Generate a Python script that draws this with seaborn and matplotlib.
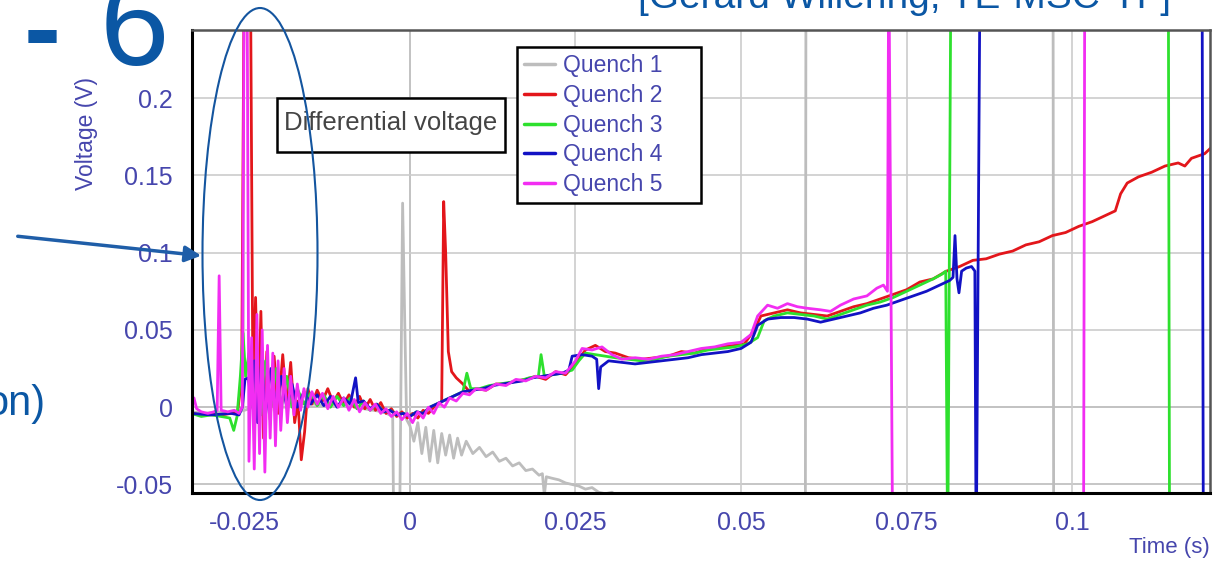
import numpy as np
import pandas as pd
import matplotlib
matplotlib.use("Agg")
import matplotlib.pyplot as plt
import seaborn as sns
from matplotlib.patches import Ellipse, FancyArrowPatch, Rectangle
from matplotlib.ticker import MultipleLocator

# (time in ms, voltage in V); +0.30 / -0.10 are off-scale excursions
quench1 = [(-33.0, -0.003), (-31.0, -0.004), (-29.0, -0.003), (-27.0, -0.004), (-25.0, -0.002),
           (-22.0, 0.002), (-19.0, 0.0), (-16.0, 0.003), (-13.0, 0.001), (-10.0, 0.002),
           (-7.0, -0.001), (-4.0, -0.003), (-2.6, -0.006), (-2.4, -0.10), (-1.6, -0.10),
           (-1.1, 0.132), (-0.8, 0.06), (-0.5, -0.008), (0.0, -0.012), (0.6, -0.022),
           (1.2, -0.01), (1.8, -0.03), (2.4, -0.013), (3.0, -0.035), (3.6, -0.015),
           (4.2, -0.036), (4.8, -0.017), (5.4, -0.031), (6.0, -0.018), (6.6, -0.033),
           (7.2, -0.02), (7.8, -0.031), (8.5, -0.022), (9.5, -0.03), (10.5, -0.026),
           (11.5, -0.032), (12.5, -0.029), (13.5, -0.035), (14.5, -0.033), (15.5, -0.038),
           (16.5, -0.036), (17.5, -0.041), (18.5, -0.04), (19.5, -0.044), (20.0, -0.043),
           (20.3, -0.057), (20.6, -0.045), (21.5, -0.046), (22.5, -0.047), (23.5, -0.049),
           (24.5, -0.05), (25.5, -0.051), (26.5, -0.053), (27.5, -0.052), (28.5, -0.055),
           (29.5, -0.056), (30.5, -0.055), (31.5, -0.058), (33.0, -0.059), (34.5, -0.063),
           (36.0, -0.07), (59.7, -0.10), (59.8, 0.30), (97.1, 0.30), (97.2, -0.10),
           (121.0, -0.10)]

quench2 = [(-33.0, -0.004), (-31.5, -0.005), (-30.0, -0.004), (-28.5, -0.005), (-27.0, -0.004),
           (-26.0, -0.003), (-25.4, 0.02), (-25.0, 0.30), (-24.1, 0.30), (-23.7, 0.01),
           (-23.3, 0.071), (-22.9, -0.01), (-22.5, 0.062), (-22.1, -0.02), (-21.6, 0.036),
           (-21.1, -0.008), (-20.5, 0.033), (-19.9, -0.004), (-19.2, 0.034), (-18.6, 0.0),
           (-18.0, 0.029), (-17.4, -0.01), (-16.9, 0.004), (-16.4, -0.034), (-15.9, -0.016),
           (-15.4, 0.012), (-14.8, 0.002), (-14.0, 0.011), (-13.2, 0.004), (-12.4, 0.012),
           (-11.6, 0.003), (-10.8, 0.009), (-10.0, 0.002), (-9.2, 0.008), (-8.4, 0.0),
           (-7.6, 0.007), (-6.8, -0.001), (-6.0, 0.005), (-5.2, -0.002), (-4.4, 0.003),
           (-3.6, -0.004), (-2.8, -0.001), (-2.0, -0.006), (-1.2, -0.003), (-0.4, -0.007),
           (0.4, -0.004), (1.2, -0.007), (2.0, -0.002), (2.8, -0.004), (3.6, 0.0),
           (4.4, 0.002), (4.8, 0.004), (5.1, 0.133), (5.4, 0.1), (5.8, 0.036),
           (6.3, 0.023), (7.0, 0.019), (8.0, 0.015), (9.0, 0.01), (10.0, 0.012),
           (11.5, 0.011), (13.0, 0.015), (14.5, 0.015), (16.0, 0.017), (17.5, 0.018),
           (19.0, 0.02), (20.5, 0.018), (22.0, 0.023), (23.5, 0.021), (25.0, 0.028),
           (26.5, 0.037), (28.0, 0.04), (29.5, 0.036), (31.0, 0.035), (33.0, 0.032),
           (35.0, 0.031), (37.0, 0.032), (39.0, 0.033), (41.0, 0.036), (43.0, 0.035),
           (45.0, 0.038), (47.0, 0.039), (49.0, 0.04), (50.5, 0.041), (52.0, 0.05),
           (53.0, 0.059), (55.0, 0.061), (57.0, 0.063), (59.0, 0.061), (61.0, 0.06),
           (63.0, 0.059), (65.0, 0.062), (67.0, 0.065), (69.0, 0.067), (71.0, 0.07),
           (73.0, 0.073), (75.0, 0.076), (77.0, 0.081), (79.0, 0.083), (81.0, 0.088),
           (83.0, 0.091), (85.0, 0.095), (87.0, 0.096), (89.0, 0.099), (91.0, 0.101),
           (93.0, 0.105), (95.0, 0.107), (97.0, 0.111), (99.0, 0.113), (101.0, 0.117),
           (103.0, 0.12), (105.0, 0.124), (106.5, 0.127), (107.3, 0.138), (108.3, 0.145),
           (110.0, 0.149), (112.0, 0.152), (114.0, 0.156), (116.0, 0.158), (117.0, 0.156),
           (118.0, 0.161), (120.0, 0.164), (121.0, 0.168)]

quench3 = [(-33.0, -0.004), (-31.5, -0.006), (-30.0, -0.005), (-28.5, -0.006), (-27.2, -0.007),
           (-26.6, -0.015), (-26.1, -0.006), (-25.6, 0.02), (-25.2, 0.048), (-24.8, 0.02),
           (-24.3, 0.035), (-23.8, 0.0), (-23.2, 0.028), (-22.5, -0.005), (-21.8, 0.03),
           (-21.0, 0.0), (-20.2, 0.025), (-19.4, 0.0), (-18.6, 0.02), (-17.8, 0.0),
           (-17.0, 0.012), (-16.0, 0.002), (-15.0, 0.009), (-14.0, 0.001), (-13.0, 0.008),
           (-12.0, 0.0), (-11.0, 0.007), (-10.0, 0.001), (-9.0, 0.006), (-8.0, -0.001),
           (-7.0, 0.004), (-6.0, -0.002), (-5.0, 0.002), (-4.0, -0.003), (-3.0, -0.002),
           (-2.0, -0.005), (-1.0, -0.004), (0.0, -0.006), (1.0, -0.003), (2.0, -0.004),
           (3.0, 0.0), (4.0, 0.002), (5.0, 0.004), (6.0, 0.006), (7.0, 0.008),
           (8.0, 0.01), (8.6, 0.022), (9.2, 0.012), (10.5, 0.012), (12.0, 0.014),
           (13.5, 0.015), (15.0, 0.016), (16.5, 0.017), (18.0, 0.019), (19.4, 0.02),
           (19.8, 0.034), (20.3, 0.02), (21.5, 0.021), (23.0, 0.022), (24.5, 0.024),
           (25.5, 0.03), (26.5, 0.035), (28.0, 0.034), (29.5, 0.033), (31.0, 0.032),
           (33.0, 0.031), (35.0, 0.03), (37.0, 0.031), (39.0, 0.033), (41.0, 0.034),
           (43.0, 0.035), (45.0, 0.037), (47.0, 0.038), (49.0, 0.039), (51.0, 0.041),
           (52.5, 0.045), (53.5, 0.056), (55.0, 0.059), (57.0, 0.061), (59.0, 0.06),
           (61.0, 0.059), (63.0, 0.057), (65.0, 0.06), (67.0, 0.063), (69.0, 0.066),
           (71.0, 0.068), (73.0, 0.071), (75.0, 0.075), (77.0, 0.079), (79.0, 0.083),
           (80.3, 0.086), (80.9, 0.088), (81.2, -0.10), (81.7, 0.30), (114.5, 0.30),
           (114.7, -0.10), (121.0, -0.10)]

quench4 = [(-33.0, -0.004), (-30.0, -0.005), (-27.0, -0.004), (-25.8, -0.005), (-25.3, 0.0),
           (-24.9, 0.018), (-24.4, 0.019), (-24.0, 0.005), (-23.5, 0.03), (-23.0, -0.01),
           (-22.4, 0.03), (-21.8, -0.005), (-21.0, 0.025), (-20.2, 0.0), (-19.4, 0.02),
           (-18.6, 0.0), (-17.8, 0.015), (-17.0, 0.0), (-16.0, 0.01), (-15.0, 0.002),
           (-14.0, 0.008), (-13.0, 0.001), (-12.0, 0.007), (-11.0, 0.0), (-10.0, 0.006),
           (-9.0, 0.002), (-8.2, 0.019), (-7.8, 0.003), (-7.0, 0.004), (-6.0, -0.001),
           (-5.0, 0.002), (-4.0, -0.003), (-3.0, -0.002), (-2.0, -0.005), (-1.0, -0.004),
           (0.0, -0.006), (1.0, -0.003), (2.0, -0.004), (3.0, 0.0), (4.0, 0.002),
           (5.0, 0.004), (6.0, 0.006), (7.0, 0.008), (8.0, 0.01), (9.5, 0.011),
           (11.0, 0.012), (12.5, 0.014), (14.0, 0.015), (15.5, 0.016), (17.0, 0.017),
           (18.5, 0.019), (20.0, 0.02), (21.5, 0.021), (23.0, 0.022), (24.0, 0.024),
           (24.5, 0.033), (26.0, 0.034), (27.5, 0.033), (28.2, 0.031), (28.5, 0.012),
           (28.8, 0.026), (30.0, 0.03), (32.0, 0.029), (34.0, 0.028), (36.0, 0.029),
           (38.0, 0.03), (40.0, 0.031), (42.0, 0.032), (44.0, 0.034), (46.0, 0.035),
           (48.0, 0.036), (50.0, 0.038), (51.5, 0.042), (52.5, 0.053), (54.0, 0.057),
           (56.0, 0.058), (58.0, 0.058), (60.0, 0.057), (62.0, 0.055), (64.0, 0.057),
           (66.0, 0.059), (68.0, 0.061), (70.0, 0.064), (72.0, 0.066), (74.0, 0.069),
           (76.0, 0.072), (78.0, 0.075), (80.0, 0.079), (81.5, 0.082), (82.0, 0.084),
           (82.3, 0.111), (82.6, 0.083), (82.9, 0.074), (83.3, 0.088), (84.0, 0.09),
           (84.8, 0.091), (85.3, 0.088), (85.5, -0.10), (86.1, 0.30), (119.6, 0.30),
           (119.8, -0.10), (121.0, -0.10)]

quench5 = [(-33.0, -0.002), (-32.6, 0.006), (-32.2, -0.001), (-31.5, -0.003), (-30.5, -0.004),
           (-29.6, -0.003), (-29.1, -0.002), (-28.8, 0.085), (-28.5, -0.002), (-27.5, -0.003),
           (-26.5, -0.002), (-25.8, -0.004), (-25.3, 0.0), (-25.0, 0.30), (-24.6, 0.30),
           (-24.3, -0.035), (-23.9, 0.045), (-23.5, -0.04), (-23.1, 0.06), (-22.7, -0.03),
           (-22.3, 0.05), (-21.9, -0.042), (-21.5, 0.04), (-21.1, -0.02), (-20.7, 0.035),
           (-20.3, -0.025), (-19.9, 0.03), (-19.5, -0.015), (-19.0, 0.025), (-18.5, -0.01),
           (-18.0, 0.02), (-17.5, -0.005), (-17.0, 0.015), (-16.5, -0.002), (-16.0, 0.012),
           (-15.4, 0.0), (-14.8, 0.01), (-14.0, 0.002), (-13.2, 0.009), (-12.4, -0.001),
           (-11.6, 0.007), (-10.8, 0.0), (-10.0, 0.006), (-9.2, -0.002), (-8.4, 0.005),
           (-7.6, -0.003), (-6.8, 0.003), (-6.0, -0.002), (-5.2, 0.002), (-4.4, -0.004),
           (-3.6, -0.001), (-2.8, -0.006), (-2.0, -0.003), (-1.2, -0.008), (-0.4, -0.004),
           (0.4, -0.01), (1.2, -0.003), (2.0, -0.007), (2.8, 0.0), (3.6, -0.004),
           (4.4, 0.003), (5.2, 0.0), (6.0, 0.006), (7.0, 0.004), (8.0, 0.009),
           (9.0, 0.008), (10.0, 0.012), (11.5, 0.011), (13.0, 0.015), (14.5, 0.014),
           (16.0, 0.018), (17.5, 0.017), (19.0, 0.02), (20.5, 0.019), (22.0, 0.023),
           (23.5, 0.022), (25.0, 0.03), (26.0, 0.038), (27.5, 0.037), (29.0, 0.039),
           (30.5, 0.034), (32.0, 0.031), (34.0, 0.032), (36.0, 0.031), (38.0, 0.033),
           (40.0, 0.034), (42.0, 0.036), (44.0, 0.038), (46.0, 0.039), (48.0, 0.041),
           (50.0, 0.042), (51.5, 0.047), (52.5, 0.059), (54.0, 0.066), (55.5, 0.064),
           (57.0, 0.067), (58.5, 0.065), (60.0, 0.064), (62.0, 0.063), (63.5, 0.062),
           (65.0, 0.066), (67.0, 0.07), (69.0, 0.072), (70.5, 0.077), (71.5, 0.079),
           (72.1, 0.075), (72.3, 0.30), (72.9, -0.10), (101.7, -0.10), (101.9, 0.30),
           (121.0, 0.30)]

names = ["Quench 1", "Quench 2", "Quench 3", "Quench 4", "Quench 5"]
colors = ["#bdbdbd", "#e3161b", "#2ee02e", "#1212c4", "#f22df2"]
x_ticks = [-0.025, 0, 0.025, 0.05, 0.075, 0.1]
x_labels = ["-0.025", "0", "0.025", "0.05", "0.075", "0.1"]
y_ticks = [-0.05, 0, 0.05, 0.1, 0.15, 0.2]
y_labels = ["-0.05", "0", "0.05", "0.1", "0.15", "0.2"]

frames = []
for name, pts in zip(names, [quench1, quench2, quench3, quench4, quench5]):
    t, v = zip(*pts)
    frames.append(pd.DataFrame({"t": np.array(t) / 1000.0, "v": v, "Quench": name}))
df = pd.concat(frames, ignore_index=True)

sns.set_style("white")
plt.rcParams["font.family"] = ["Liberation Sans", "DejaVu Sans"]

slide_blue = "#0b57a4"
label_blue = "#4646ad"

W, H = 1214, 574
fig = plt.figure(figsize=(W / 100, H / 100), dpi=100)
ax = fig.add_axes([192 / W, 1 - 493 / H, 1018 / W, 463 / H])

sns.lineplot(data=df, x="t", y="v", hue="Quench", hue_order=names,
             palette=dict(zip(names, colors)), estimator=None, sort=False,
             linewidth=2.0, ax=ax)

ax.set_xlim(-0.0329, 0.1208)
ax.set_ylim(-0.0555, 0.244)
ax.set_xticks(x_ticks)
ax.set_xticklabels(x_labels)
ax.set_yticks(y_ticks)
ax.set_yticklabels(y_labels)
ax.xaxis.set_minor_locator(MultipleLocator(0.0125))
ax.yaxis.set_minor_locator(MultipleLocator(0.025))
ax.set_xlabel("")
ax.set_ylabel("")

ax.grid(True, which="major", color="#cccccc", lw=1.2, zorder=0)
ax.axhline(0, color="#8c8c8c", lw=1.3, zorder=0.5)
ax.axhline(-0.05, color="#a8a8a8", lw=1.3, zorder=0.5)
ax.axvline(0, color="#8c8c8c", lw=1.3, zorder=0.5)

for side in ["left", "bottom"]:
    ax.spines[side].set_color("black")
    ax.spines[side].set_linewidth(2.2)
for side in ["top", "right"]:
    ax.spines[side].set_color("#555555")
    ax.spines[side].set_linewidth(1.8)

ax.tick_params(axis="both", which="major", direction="inout", length=14, width=1.5,
               color="black", labelsize=18, labelcolor=label_blue)
ax.tick_params(axis="both", which="minor", direction="inout", length=9, width=1.3,
               color="black")
ax.tick_params(axis="y", which="major", pad=7)
ax.tick_params(axis="x", which="major", pad=6)

handles, labels = ax.get_legend_handles_labels()
leg = ax.legend(handles, [l + "     " for l in labels], loc="upper left",
                bbox_to_anchor=((517 - 192) / 1018, (493 - 47) / 463),
                frameon=True, fancybox=False, edgecolor="black", framealpha=1,
                fontsize=16.5, labelspacing=0.3, handlelength=1.35, handletextpad=0.35,
                borderpad=0.3, borderaxespad=0)
leg.get_frame().set_linewidth(1.8)
for txt in leg.get_texts():
    txt.set_color(label_blue)
for line in leg.get_lines():
    line.set_linewidth(2.5)

# "Differential voltage" annotation box
ax.add_patch(Rectangle(((277 - 192) / 1018, (493 - 152) / 463), 228 / 1018, 54 / 463,
                       transform=ax.transAxes, fc="white", ec="black", lw=1.8, zorder=5))
ax.text((391 - 192) / 1018, (493 - 123) / 463, "Differential voltage",
        transform=ax.transAxes, ha="center", va="center", fontsize=18.5,
        color="#444444", zorder=6)

fig.text(87 / W, 1 - 133 / H, "Voltage (V)", rotation=90, ha="center", va="center",
         fontsize=16.5, color=label_blue)
fig.text(1210 / W, 1 - 548 / H, "Time (s)", ha="right", va="center",
         fontsize=16, color=label_blue)

# slide decorations around the chart
fig.text(638 / W, 1 - 8 / H, "[Gerard Willering, TE-MSC-TF]", ha="left",
         va="baseline", fontsize=28, color=slide_blue)
fig.text(24 / W, 1 - 65 / H, "-", ha="left", va="baseline", fontsize=80,
         fontweight="bold", color=slide_blue)
fig.text(100 / W, 1 - 65 / H, "6", ha="left", va="baseline", fontsize=90,
         color=slide_blue)
fig.text(45 / W, 1 - 415 / H, "on)", ha="right", va="baseline", fontsize=30,
         color=slide_blue)

fig.add_artist(Ellipse((260 / W, 1 - 254 / H), 115 / W, 492 / H,
                       transform=fig.transFigure, fill=False, ec="#14559f", lw=1.5,
                       zorder=10))
fig.add_artist(FancyArrowPatch((15 / W, 1 - 236 / H), (204 / W, 1 - 256 / H),
                               transform=fig.transFigure, arrowstyle="-|>",
                               mutation_scale=24, lw=2.5, color="#1f5ea8", zorder=10))

fig.savefig("out.png", dpi=100)
